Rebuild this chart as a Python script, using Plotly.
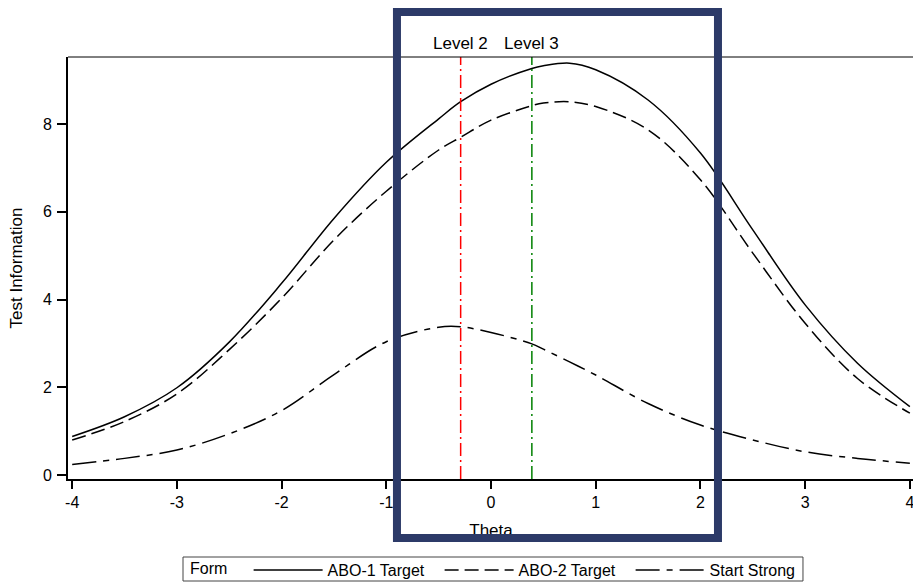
import plotly.graph_objects as go

theta = [-4, -3.5, -3, -2.5, -2, -1.5, -1, -0.5, -0.29, 0, 0.39, 0.5, 0.75, 1, 1.5, 2, 2.5, 3, 3.5, 4]
abo1 = [0.88, 1.33, 1.99, 3.03, 4.37, 5.85, 7.13, 8.12, 8.51, 8.91, 9.27, 9.33, 9.39, 9.24, 8.55, 7.34, 5.59, 3.88, 2.55, 1.56]
abo2 = [0.80, 1.22, 1.85, 2.86, 4.03, 5.36, 6.47, 7.41, 7.70, 8.09, 8.42, 8.48, 8.51, 8.40, 7.87, 6.73, 5.06, 3.46, 2.20, 1.41]
start_strong = [0.24, 0.38, 0.57, 0.94, 1.47, 2.29, 3.04, 3.37, 3.38, 3.25, 2.99, 2.87, 2.58, 2.28, 1.63, 1.14, 0.80, 0.53, 0.38, 0.27]

series_names = ["ABO-1 Target", "ABO-2 Target", "Start Strong"]
level_names = ["Level 2", "Level 3"]
level_theta = [-0.29, 0.39]
level_colors = ["#ff0000", "#008000"]

x_ticks = [-4, -3, -2, -1, 0, 1, 2, 3, 4]
y_ticks = [0, 2, 4, 6, 8]
x_range = [-4.04, 4.03]
y_range = [-0.09, 9.53]

FONT = "Liberation Sans, Arial, sans-serif"
NB = "\u00a0"

fig = go.Figure()
dashes = ["solid", "14px,6px", "24px,7px,6px,7px"]
for name, ys, d in zip(series_names, [abo1, abo2, start_strong], dashes):
    fig.add_trace(go.Scatter(x=theta, y=ys, mode="lines", name=name,
                             line=dict(color="black", width=1.5, dash=d, shape="spline", smoothing=1)))

for t, c in zip(level_theta, level_colors):
    fig.add_trace(go.Scatter(x=[t, t], y=y_range, mode="lines", showlegend=False,
                             line=dict(color=c, width=1.5, dash="13px,4px,2px,4px"), hoverinfo="skip"))

# x-axis title drawn in a hidden strip subplot, so the frame lies on top of it
fig.add_trace(go.Scatter(x=[0], y=[0.535], xaxis="x2", yaxis="y2", mode="text", text=["Theta"],
                         showlegend=False, textfont=dict(family=FONT, size=17, color="black"),
                         hoverinfo="skip"))

for n, t in zip(level_names, level_theta):
    fig.add_annotation(x=t, y=1.0248, xref="x", yref="paper", text=n, showarrow=False,
                       font=dict(family=FONT, size=17, color="black"), yanchor="middle")

# top border
fig.add_shape(type="line", xref="paper", yref="paper", x0=0, x1=1, y0=1, y1=1,
              line=dict(color="black", width=1))

# legend frame
fig.add_shape(type="rect", xref="paper", yref="paper", x0=0.1361, x1=0.8698, y0=0.0019, y1=0.0476,
              line=dict(color="#444444", width=1), fillcolor="white", layer="above")

# highlight frame
fig.add_shape(type="rect", xref="paper", yref="paper", x0=0.3893, x1=0.7692, y0=0.0838, y1=1.0857,
              line=dict(color="rgb(44,58,104)", width=8), layer="above")

fig.update_layout(
    width=913, height=582,
    margin=dict(l=68, r=0, t=57, b=0, autoexpand=False),
    plot_bgcolor="white", paper_bgcolor="white",
    font=dict(family=FONT, size=16, color="black"),
    xaxis=dict(range=x_range, tickvals=x_ticks, ticktext=[str(v) for v in x_ticks],
               showgrid=False, zeroline=False, showline=True, linecolor="black", linewidth=2,
               ticks="outside", ticklen=8, tickwidth=1.5, tickcolor="black",
               tickfont=dict(family=FONT, size=16), ticklabeloverflow="allow", anchor="y"),
    yaxis=dict(range=y_range, tickvals=y_ticks, showgrid=False, zeroline=False, showline=True,
               domain=[0.1962, 1], anchor="x",
               linecolor="black", linewidth=2, ticks="outside", ticklen=9, tickwidth=1.5,
               tickcolor="black", tickfont=dict(family=FONT, size=16), ticklabelstandoff=2,
               title=dict(text="Test Information", font=dict(family=FONT, size=17), standoff=16)),
    xaxis2=dict(range=x_range, visible=False, anchor="y2", domain=[0, 1]),
    yaxis2=dict(range=[0, 1], visible=False, anchor="x2", domain=[0, 0.18]),
    legend=dict(orientation="h", x=0.1367, xanchor="left", y=-0.0095, yanchor="bottom",
                title=dict(text=NB + "Form" + NB * 3, font=dict(family=FONT, size=16)),
                font=dict(family=FONT, size=16), borderwidth=0,
                bgcolor="rgba(0,0,0,0)", itemwidth=69, entrywidth=107, entrywidthmode="pixels",
                tracegroupgap=0, valign="middle"),
    showlegend=True,
)

fig.write_html("out.html")
